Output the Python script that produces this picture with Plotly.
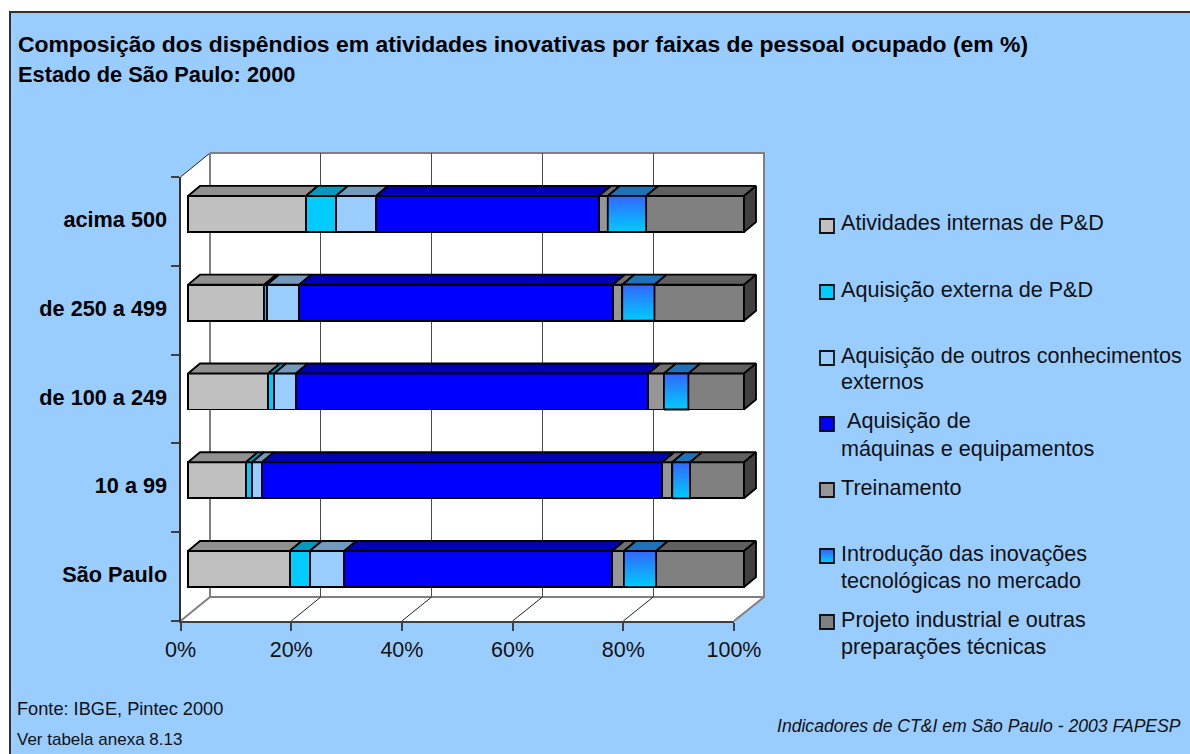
import plotly.graph_objects as go

CATEGORIES = ["São Paulo", "10 a 99", "de 100 a 249", "de 250 a 499", "acima 500"]
SERIES_NAMES = [
    "Atividades internas de P&D",
    "Aquisição externa de P&D",
    "Aquisição de outros conhecimentos",
    "Aquisição de máquinas e equipamentos",
    "Treinamento",
    "Introdução das inovações tecnológicas no mercado",
    "Projeto industrial e outras preparações técnicas",
]
ATIVIDADES = [18.3, 10.4, 14.4, 13.7, 21.2]
EXTERNA = [3.6, 1.1, 1.1, 0.5, 5.4]
OUTROS = [6.2, 1.8, 3.9, 5.8, 7.2]
MAQUINAS = [48.2, 72.0, 63.4, 56.4, 40.1]
TREINAMENTO = [2.1, 1.8, 2.8, 1.7, 1.6]
INTRODUCAO = [5.8, 3.2, 4.4, 5.8, 6.9]
PROJETO = [15.8, 9.7, 10.0, 16.1, 17.6]
SERIES = [ATIVIDADES, EXTERNA, OUTROS, MAQUINAS, TREINAMENTO, INTRODUCAO, PROJETO]
TICKS = [0, 20, 40, 60, 80, 100]

FRONT = ["#C0C0C0", "#00CCFF", "#99CCFF", "#0000FF", "#969696", "#1E99FF", "#808080"]
TOP = ["#909090", "#0099BF", "#7399BF", "#0000B4", "#707070", "#1F72B8", "#606060"]
SIDE = "#404040"

W, H = 1190, 754
FONT = "Liberation Sans"
EDGE = 1.8


def px(x):
    return x / W


def py(y):
    return 1 - y / H


UNIT_X = 5.56           # pixels per % on the bar plane
DEPTH_X = 12 / UNIT_X   # bar depth in % units
DEPTH_Y = 10 / 88.75    # bar depth in category units
HALF = 0.203            # half bar thickness in category units

fig = go.Figure()

# invisible trace so that the back wall subplot exists and draws its grid
fig.add_trace(go.Scatter(
    x=TICKS, y=[0] * len(TICKS), mode="markers", marker=dict(opacity=0),
    showlegend=False, xaxis="x", yaxis="y", hoverinfo="skip",
))

# invisible trace so the front axis knows its categories
fig.add_trace(go.Scatter(
    x=[0] * len(CATEGORIES), y=CATEGORIES, mode="markers", marker=dict(opacity=0),
    showlegend=False, xaxis="x2", yaxis="y2", hoverinfo="skip",
))

# bar faces
cum = [[0.0] * len(CATEGORIES)]
for s in SERIES:
    cum.append([a + b for a, b in zip(cum[-1], s)])

for i, s in enumerate(SERIES):
    fig.add_trace(go.Bar(
        y=list(range(len(CATEGORIES))), x=s, orientation="h", width=2 * HALF,
        name=SERIES_NAMES[i], showlegend=False,
        marker=dict(color=FRONT[i], line=dict(color="black", width=EDGE)),
        xaxis="x3", yaxis="y3", hoverinfo="skip",
    ))

for i, s in enumerate(SERIES):
    xs, ys = [], []
    for c in range(len(CATEGORIES)):
        a, b = cum[i][c], cum[i + 1][c]
        t = c + HALF
        xs += [a, a + DEPTH_X, b + DEPTH_X, b, a, None]
        ys += [t, t + DEPTH_Y, t + DEPTH_Y, t, t, None]
    fig.add_trace(go.Scatter(
        x=xs, y=ys, mode="lines", fill="toself", fillcolor=TOP[i],
        line=dict(color="black", width=EDGE), showlegend=False,
        xaxis="x3", yaxis="y3", hoverinfo="skip",
    ))

# right end faces
xs, ys = [], []
for c in range(len(CATEGORIES)):
    e = cum[-1][c]
    xs += [e, e + DEPTH_X, e + DEPTH_X, e, e, None]
    ys += [c + HALF, c + HALF + DEPTH_Y, c - HALF + DEPTH_Y, c - HALF, c + HALF, None]
fig.add_trace(go.Scatter(
    x=xs, y=ys, mode="lines", fill="toself", fillcolor=SIDE,
    line=dict(color="black", width=EDGE), showlegend=False,
    xaxis="x3", yaxis="y3", hoverinfo="skip",
))

# gradient front faces of the "Introdução" series
for c in range(len(CATEGORIES)):
    a, b = cum[5][c], cum[6][c]
    fig.add_trace(go.Scatter(
        x=[a, b, b, a, a], y=[c - HALF, c - HALF, c + HALF, c + HALF, c - HALF],
        mode="lines", fill="toself",
        fillgradient=dict(type="vertical", colorscale=[[0, "#00CCFF"], [1, "#3366FF"]]),
        line=dict(color="black", width=EDGE), showlegend=False,
        xaxis="x3", yaxis="y3", hoverinfo="skip",
    ))

shapes = []
BLUE = "#99CCFF"
shapes.append(dict(type="rect", xref="paper", yref="paper", x0=px(10), x1=px(W + 10),
                   y0=py(12), y1=py(H + 10), fillcolor=BLUE,
                   line=dict(color="#303030", width=2), layer="below"))


def poly(pts, fill=None, color=None, width=1):
    path = "M" + " L".join(f"{px(x):.5f},{py(y):.5f}" for x, y in pts)
    if fill:
        path += " Z"
    shapes.append(dict(type="path", xref="paper", yref="paper", path=path,
                       fillcolor=fill if fill else "rgba(0,0,0,0)",
                       line=dict(color=color if color else "rgba(0,0,0,0)", width=width),
                       layer="below"))


FX0, FX1, FY0, FY1 = 180.5, 734, 177, 621      # front plane
BX0, BX1, BY0, BY1 = 210, 764, 153, 597        # back wall
poly([(FX0, FY1), (BX0, BY1), (BX0, BY0), (FX0, FY0)], fill="white")
poly([(BX0, BY0), (BX1, BY0), (BX1, BY1), (BX0, BY1)], fill="white")
poly([(FX0, FY1), (BX0, BY1), (BX1, BY1), (FX1, FY1)], fill="white")
poly([(FX0, FY0), (BX0, BY0)], color="#222222", width=1)
poly([(BX0, BY0), (BX1, BY0), (BX1, BY1), (BX0, BY1), (BX0, BY0)], color="#808080", width=2)
for v in TICKS:
    f = FX0 + (FX1 - FX0) * v / 100
    b = BX0 + (BX1 - BX0) * v / 100
    edge = v in (0, 100)
    poly([(f, FY1), (b, BY1)], color="#808080" if edge else "#222222", width=2 if edge else 1)

# legend
LEGEND = [
    (226, ["Atividades internas de P&D"], "#C0C0C0"),
    (292, ["Aquisição externa de P&D"], "#00CCFF"),
    (358, ["Aquisição de outros conhecimentos", "externos"], "#99CCFF"),
    (424, [" Aquisição de", "máquinas e equipamentos"], "#0000FF"),
    (490, ["Treinamento"], "#969696"),
    (556, ["Introdução das inovações", "tecnológicas no mercado"], None),
    (622, ["Projeto industrial e outras", "preparações técnicas"], "#808080"),
]
annotations = []
for yc, lines, col in LEGEND:
    if col is None:
        n = 7
        for k in range(n):
            t = k / (n - 1)
            r = int(0x33 * (1 - t))
            g = int(0x66 + (0xCC - 0x66) * t)
            shapes.append(dict(type="rect", xref="paper", yref="paper",
                               x0=px(820), x1=px(834),
                               y0=py(yc - 7 + 14 * k / n), y1=py(yc - 7 + 14 * (k + 1) / n),
                               fillcolor=f"rgb({r},{g},255)", line=dict(width=0)))
    shapes.append(dict(type="rect", xref="paper", yref="paper", x0=px(820), x1=px(834),
                       y0=py(yc - 7), y1=py(yc + 7),
                       fillcolor=col if col else "rgba(0,0,0,0)",
                       line=dict(color="#111111", width=1.8)))
    for j, line in enumerate(lines):
        annotations.append(dict(
            xref="paper", yref="paper", x=px(839), y=py(yc - 3 + 27 * j),
            xanchor="left", yanchor="middle",
            text=line.replace(" ", "\u00a0", 1) if line.startswith(" ") else line,
            showarrow=False, font=dict(family=FONT, size=21.6, color="#111111"),
        ))

TEXTS = [
    ("Composição dos dispêndios em atividades inovativas por faixas de pessoal ocupado (em %)", 16, 44, 22.9, True, False),
    ("Estado de São Paulo: 2000", 16, 74, 21.8, True, False),
    ("Fonte: IBGE, Pintec 2000", 15, 709, 18.2, False, False),
    ("Ver tabela anexa 8.13", 15, 739, 17, False, False),
    ("Indicadores de CT&I em São Paulo - 2003 FAPESP", 775, 726, 17.6, False, True),
]
for text, x, y, size, bold, italic in TEXTS:
    annotations.append(dict(
        xref="paper", yref="paper", x=px(x), y=py(y), xanchor="left", yanchor="middle",
        text=text, showarrow=False,
        font=dict(family=FONT, size=size, color="#000000" if bold else "#111111",
                  weight="bold" if bold else "normal", style="italic" if italic else "normal"),
    ))

fig.update_layout(
    width=W, height=H, margin=dict(l=0, r=0, t=0, b=0, pad=0, autoexpand=False),
    paper_bgcolor="white", plot_bgcolor="rgba(0,0,0,0)",
    barmode="stack", showlegend=False, shapes=shapes, annotations=annotations,
    font=dict(family=FONT, color="#111111"),
    # back wall
    xaxis=dict(domain=[px(BX0), px(BX1)], range=[0, 100], tickvals=TICKS, showticklabels=False,
               showgrid=True, gridcolor="#4a4a4a", gridwidth=1.2, zeroline=False, showline=False,
               ticks="", anchor="y"),
    yaxis=dict(domain=[py(BY1), py(BY0)], range=[0, 1], showticklabels=False, showgrid=False,
               zeroline=False, showline=False, ticks="", anchor="x"),
    # front plane: the visible axes
    xaxis2=dict(domain=[px(FX0), px(FX1)], range=[0, 100], tickvals=TICKS,
                ticktext=[f"{v}%" for v in TICKS], showgrid=False, zeroline=False,
                showline=True, linecolor="#404040", linewidth=2, ticks="outside", ticklen=8,
                tickcolor="#404040", tickwidth=1.5,
                tickfont=dict(family=FONT, size=21.5, color="#111111"), anchor="y2"),
    yaxis2=dict(domain=[py(FY1), py(FY0)], type="category", categoryorder="array",
                categoryarray=CATEGORIES, range=[-0.5, 4.5], tickson="boundaries", showgrid=False,
                zeroline=False, showline=True, linecolor="#303030", linewidth=2, ticks="outside",
                ticklen=8, tickcolor="#404040", tickwidth=1.5, ticklabelstandoff=7,
                ticklabelshift=-2,
                tickfont=dict(family=FONT, size=21.7, color="#000000", weight="bold"), anchor="x2"),
    # bar plane (range reaches past 100% so the end faces are not clipped)
    xaxis3=dict(domain=[px(188 - UNIT_X), px(744 + 4 * UNIT_X)], range=[-1, 104], visible=False,
                anchor="y3"),
    yaxis3=dict(domain=[py(613.4), py(169.6)], range=[-0.5, 4.5], visible=False, anchor="x3"),
)

fig.write_html(
    "out.html",
    config={"displayModeBar": False},
    post_script="document.body.style.margin='0';document.body.style.overflow='hidden';",
)
